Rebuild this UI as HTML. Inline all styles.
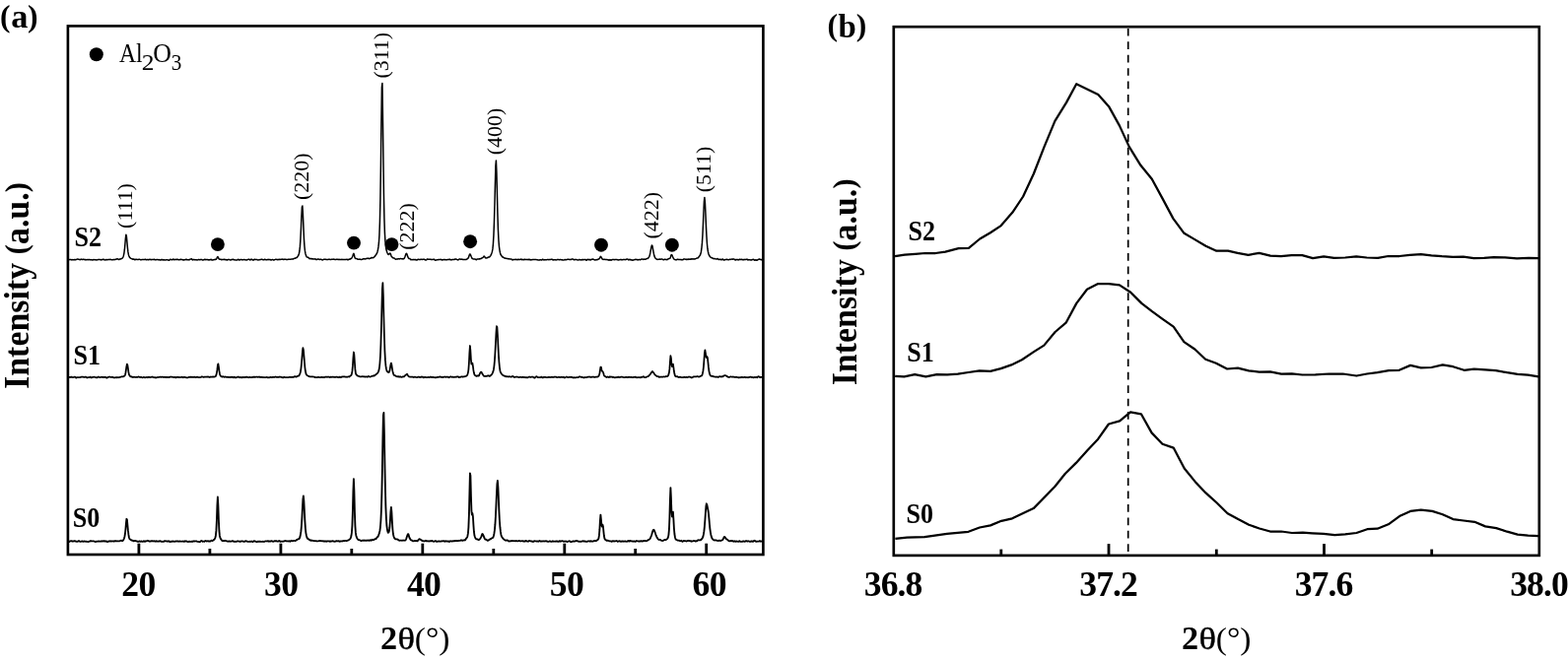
<!DOCTYPE html>
<html><head><meta charset="utf-8"><title>XRD patterns</title>
<style>html,body{margin:0;padding:0;background:#fff}svg{display:block}</style></head>
<body>
<svg width="1591" height="669" viewBox="0 0 1591 669">
<rect width="1591" height="669" fill="#fff"/>
<g font-family="'Liberation Serif', serif" fill="#000">
<polyline fill="none" stroke="#000" stroke-width="1.5" stroke-linejoin="round" points="69.4,263.7 69.9,263.7 70.4,263.6 70.9,263.4 71.4,263.4 71.9,263.5 72.4,263.7 72.9,263.9 73.4,263.7 73.9,263.6 74.4,263.8 74.9,263.8 75.4,263.6 75.9,263.5 76.4,263.7 76.9,263.7 77.4,263.4 77.9,263.3 78.4,263.1 78.9,263.1 79.4,263.2 79.9,263.3 80.4,263.4 80.9,263.6 81.4,263.7 81.9,263.4 82.4,263.1 82.9,263.3 83.4,263.6 83.9,263.5 84.4,263.3 84.9,263.3 85.4,263.4 85.9,263.5 86.4,263.7 86.9,263.6 87.4,263.7 87.9,263.8 88.4,263.6 88.9,263.6 89.4,263.7 89.9,263.6 90.4,263.4 90.9,263.7 91.4,263.8 91.9,263.6 92.4,263.7 92.9,263.7 93.4,263.8 93.9,264.1 94.4,263.9 94.9,263.5 95.4,263.6 95.9,263.8 96.4,263.8 96.9,263.8 97.4,263.8 97.9,263.9 98.4,263.9 98.9,263.7 99.4,263.6 99.9,263.6 100.4,263.5 100.9,263.4 101.4,263.4 101.9,263.6 102.4,263.9 102.9,263.8 103.4,263.4 103.9,263.4 104.4,263.5 104.9,263.3 105.4,263.3 105.9,263.7 106.4,263.9 106.9,263.9 107.4,263.6 107.9,263.5 108.4,263.7 108.9,263.8 109.4,263.6 109.9,263.5 110.4,263.6 110.9,263.6 111.4,263.4 111.9,263.3 112.4,263.4 112.9,263.6 113.4,263.8 113.9,263.8 114.4,263.7 114.9,263.6 115.4,263.6 115.9,263.7 116.4,263.6 116.9,263.5 117.4,263.3 117.9,263.2 118.4,262.9 118.9,262.8 119.4,263.0 119.9,263.1 120.4,263.4 120.9,263.5 121.4,263.1 121.9,262.8 122.4,262.9 122.9,262.8 123.4,262.4 123.9,262.2 124.4,261.9 124.9,261.0 125.4,259.4 125.9,257.1 126.4,253.2 126.9,247.7 127.4,241.8 127.9,238.2 128.4,240.0 128.9,245.6 129.4,251.3 129.9,255.7 130.4,258.5 130.9,260.0 131.4,261.1 131.9,261.7 132.4,262.0 132.9,262.4 133.4,262.6 133.9,262.8 134.4,263.0 134.9,263.2 135.4,263.1 135.9,263.1 136.4,263.5 136.9,263.7 137.4,263.5 137.9,263.3 138.4,263.3 138.9,263.4 139.4,263.5 139.9,263.5 140.4,263.4 140.9,263.3 141.4,263.2 141.9,263.4 142.4,263.7 142.9,263.8 143.4,263.7 143.9,263.6 144.4,263.4 144.9,263.4 145.4,263.5 145.9,263.5 146.4,263.5 146.9,263.4 147.4,263.2 147.9,263.5 148.4,263.8 148.9,263.6 149.4,263.4 149.9,263.7 150.4,263.8 150.9,263.5 151.4,263.4 151.9,263.3 152.4,263.3 152.9,263.6 153.4,263.7 153.9,263.6 154.4,263.6 154.9,263.6 155.4,263.6 155.9,263.5 156.4,263.3 156.9,263.4 157.4,263.8 157.9,263.7 158.4,263.7 158.9,263.6 159.4,263.5 159.9,263.6 160.4,263.7 160.9,263.7 161.4,263.6 161.9,263.8 162.4,264.0 162.9,264.0 163.4,263.8 163.9,263.5 164.4,263.4 164.9,263.8 165.4,263.9 165.9,263.8 166.4,263.8 166.9,264.0 167.4,264.0 167.9,263.9 168.4,263.8 168.9,263.8 169.4,263.7 169.9,263.8 170.4,263.9 170.9,264.1 171.4,264.3 171.9,264.0 172.4,263.4 172.9,263.3 173.4,263.6 173.9,263.6 174.4,263.7 174.9,263.7 175.4,263.2 175.9,263.1 176.4,263.5 176.9,263.7 177.4,263.6 177.9,263.6 178.4,263.4 178.9,263.3 179.4,263.4 179.9,263.3 180.4,263.3 180.9,263.6 181.4,263.8 181.9,263.7 182.4,263.5 182.9,263.4 183.4,263.3 183.9,263.4 184.4,263.6 184.9,263.6 185.4,263.7 185.9,264.0 186.4,264.0 186.9,263.7 187.4,263.7 187.9,263.7 188.4,263.5 188.9,263.3 189.4,263.5 189.9,263.8 190.4,263.7 190.9,263.7 191.4,263.7 191.9,263.9 192.4,263.6 192.9,263.2 193.4,263.1 193.9,262.9 194.4,262.8 194.9,263.4 195.4,263.9 195.9,263.7 196.4,263.4 196.9,263.5 197.4,263.8 197.9,263.8 198.4,263.7 198.9,263.7 199.4,263.8 199.9,263.9 200.4,263.9 200.9,263.7 201.4,263.5 201.9,263.6 202.4,263.7 202.9,263.7 203.4,263.5 203.9,263.5 204.4,263.5 204.9,263.6 205.4,264.0 205.9,264.1 206.4,263.8 206.9,263.8 207.4,263.6 207.9,263.2 208.4,263.5 208.9,263.7 209.4,263.6 209.9,263.4 210.4,263.5 210.9,263.7 211.4,263.9 211.9,263.8 212.4,263.8 212.9,263.9 213.4,263.6 213.9,263.3 214.4,263.4 214.9,263.9 215.4,264.0 215.9,263.9 216.4,263.8 216.9,263.7 217.4,263.6 217.9,263.4 218.4,263.3 218.9,263.4 219.4,263.2 219.9,262.4 220.4,261.3 220.9,260.6 221.4,261.3 221.9,262.5 222.4,263.1 222.9,263.2 223.4,263.2 223.9,263.2 224.4,263.5 224.9,263.7 225.4,263.6 225.9,263.5 226.4,263.6 226.9,263.5 227.4,263.3 227.9,263.4 228.4,263.5 228.9,263.7 229.4,263.6 229.9,263.8 230.4,264.0 230.9,263.7 231.4,263.5 231.9,263.6 232.4,263.6 232.9,263.5 233.4,263.9 233.9,264.1 234.4,263.8 234.9,263.5 235.4,263.5 235.9,263.5 236.4,263.3 236.9,263.5 237.4,263.7 237.9,263.7 238.4,263.9 238.9,264.1 239.4,263.9 239.9,264.0 240.4,264.1 240.9,263.8 241.4,263.4 241.9,263.3 242.4,263.7 242.9,264.1 243.4,263.9 243.9,263.5 244.4,263.4 244.9,263.5 245.4,263.7 245.9,263.7 246.4,263.7 246.9,263.7 247.4,263.6 247.9,263.6 248.4,263.7 248.9,263.7 249.4,263.9 249.9,264.1 250.4,264.0 250.9,263.6 251.4,263.4 251.9,263.4 252.4,263.2 252.9,263.3 253.4,263.8 253.9,263.9 254.4,263.5 254.9,263.3 255.4,263.3 255.9,263.5 256.4,263.9 256.9,264.2 257.4,263.8 257.9,263.4 258.4,263.3 258.9,263.5 259.4,263.5 259.9,263.4 260.4,263.4 260.9,263.5 261.4,263.9 261.9,264.1 262.4,263.9 262.9,263.7 263.4,263.7 263.9,263.6 264.4,263.5 264.9,263.4 265.4,263.2 265.9,263.3 266.4,263.6 266.9,263.7 267.4,263.8 267.9,263.7 268.4,263.3 268.9,263.3 269.4,263.6 269.9,263.7 270.4,263.7 270.9,263.8 271.4,263.6 271.9,263.3 272.4,263.4 272.9,263.7 273.4,263.6 273.9,263.4 274.4,263.7 274.9,264.0 275.4,263.9 275.9,263.6 276.4,263.4 276.9,263.6 277.4,264.0 277.9,264.0 278.4,263.8 278.9,263.6 279.4,263.4 279.9,263.2 280.4,263.4 280.9,263.6 281.4,263.5 281.9,263.7 282.4,263.6 282.9,263.3 283.4,263.3 283.9,263.4 284.4,263.4 284.9,263.3 285.4,263.3 285.9,263.3 286.4,263.2 286.9,263.1 287.4,263.4 287.9,263.5 288.4,263.3 288.9,263.2 289.4,263.2 289.9,263.3 290.4,263.4 290.9,263.5 291.4,263.5 291.9,263.4 292.4,263.3 292.9,263.2 293.4,263.2 293.9,263.3 294.4,263.3 294.9,263.3 295.4,263.1 295.9,262.9 296.4,262.9 296.9,263.1 297.4,263.0 297.9,262.7 298.4,262.4 298.9,262.3 299.4,262.3 299.9,261.9 300.4,261.6 300.9,261.7 301.4,261.4 301.9,260.6 302.4,259.8 302.9,259.0 303.4,257.5 303.9,255.0 304.4,250.4 304.9,243.1 305.4,232.8 305.9,220.4 306.4,210.3 306.9,209.0 307.4,217.5 307.9,230.1 308.4,241.5 308.9,249.5 309.4,254.4 309.9,257.4 310.4,259.1 310.9,260.3 311.4,261.1 311.9,261.1 312.4,261.2 312.9,261.5 313.4,261.9 313.9,262.5 314.4,262.7 314.9,262.4 315.4,262.4 315.9,262.8 316.4,262.9 316.9,262.6 317.4,262.8 317.9,263.1 318.4,263.1 318.9,263.1 319.4,262.9 319.9,262.8 320.4,263.1 320.9,263.6 321.4,263.6 321.9,263.3 322.4,263.0 322.9,262.9 323.4,263.1 323.9,263.4 324.4,263.4 324.9,263.3 325.4,263.2 325.9,263.3 326.4,263.6 326.9,263.9 327.4,263.9 327.9,263.6 328.4,263.3 328.9,263.3 329.4,263.3 329.9,263.3 330.4,263.3 330.9,263.4 331.4,263.5 331.9,263.6 332.4,263.5 332.9,263.4 333.4,263.3 333.9,263.2 334.4,263.3 334.9,263.4 335.4,263.5 335.9,263.4 336.4,263.3 336.9,263.3 337.4,263.2 337.9,263.2 338.4,263.2 338.9,263.1 339.4,263.4 339.9,263.6 340.4,263.5 340.9,263.4 341.4,263.3 341.9,263.3 342.4,263.3 342.9,263.4 343.4,263.4 343.9,263.3 344.4,263.5 344.9,263.5 345.4,263.5 345.9,263.5 346.4,263.4 346.9,263.3 347.4,263.4 347.9,263.6 348.4,263.6 348.9,263.5 349.4,263.4 349.9,263.4 350.4,263.6 350.9,263.6 351.4,263.4 351.9,263.2 352.4,263.5 352.9,263.8 353.4,263.7 353.9,263.3 354.4,263.1 354.9,263.2 355.4,263.0 355.9,262.6 356.4,262.5 356.9,262.0 357.4,261.0 357.9,259.7 358.4,258.1 358.9,257.3 359.4,258.8 359.9,261.0 360.4,262.3 360.9,262.6 361.4,262.6 361.9,262.6 362.4,262.8 362.9,263.2 363.4,263.3 363.9,263.3 364.4,263.3 364.9,263.1 365.4,263.2 365.9,263.4 366.4,263.4 366.9,263.4 367.4,263.3 367.9,263.1 368.4,263.0 368.9,262.7 369.4,262.7 369.9,262.9 370.4,263.0 370.9,262.8 371.4,262.5 371.9,262.5 372.4,262.5 372.9,262.3 373.4,262.1 373.9,262.4 374.4,262.7 374.9,262.5 375.4,262.2 375.9,262.2 376.4,262.0 376.9,261.5 377.4,261.5 377.9,261.7 378.4,261.7 378.9,261.6 379.4,261.2 379.9,260.6 380.4,260.1 380.9,259.6 381.4,258.7 381.9,258.0 382.4,257.2 382.9,255.9 383.4,253.8 383.9,250.9 384.4,246.7 384.9,239.1 385.4,225.4 385.9,202.3 386.4,167.5 386.9,124.5 387.4,88.5 387.9,84.6 388.4,116.3 388.9,159.1 389.4,195.8 389.9,221.3 390.4,236.4 390.9,245.0 391.4,250.2 391.9,253.3 392.4,255.1 392.9,256.5 393.4,257.5 393.9,258.2 394.4,258.4 394.9,257.9 395.4,257.2 395.9,257.1 396.4,258.1 396.9,259.6 397.4,260.6 397.9,261.0 398.4,261.5 398.9,261.8 399.4,262.1 399.9,262.1 400.4,262.3 400.9,262.8 401.4,263.2 401.9,263.2 402.4,262.9 402.9,262.9 403.4,263.1 403.9,262.8 404.4,262.6 404.9,262.8 405.4,262.9 405.9,262.6 406.4,262.4 406.9,262.6 407.4,262.8 407.9,262.8 408.4,262.8 408.9,262.9 409.4,262.8 409.9,262.5 410.4,261.9 410.9,260.8 411.4,259.3 411.9,257.8 412.4,257.3 412.9,258.0 413.4,259.4 413.9,260.9 414.4,262.0 414.9,262.5 415.4,262.5 415.9,262.6 416.4,263.2 416.9,263.7 417.4,263.7 417.9,263.4 418.4,263.6 418.9,263.8 419.4,263.5 419.9,263.4 420.4,263.6 420.9,263.7 421.4,263.6 421.9,263.6 422.4,263.9 422.9,264.0 423.4,263.8 423.9,263.5 424.4,263.2 424.9,263.4 425.4,263.6 425.9,263.6 426.4,263.6 426.9,263.3 427.4,263.2 427.9,263.4 428.4,263.4 428.9,263.3 429.4,263.3 429.9,263.2 430.4,263.2 430.9,263.6 431.4,263.8 431.9,264.0 432.4,264.0 432.9,263.6 433.4,263.1 433.9,263.1 434.4,263.2 434.9,263.3 435.4,263.3 435.9,263.2 436.4,263.3 436.9,263.3 437.4,263.5 437.9,263.5 438.4,263.5 438.9,263.5 439.4,263.4 439.9,263.2 440.4,263.2 440.9,263.6 441.4,264.1 441.9,264.3 442.4,264.1 442.9,263.8 443.4,263.7 443.9,263.8 444.4,263.7 444.9,263.5 445.4,263.5 445.9,263.5 446.4,263.5 446.9,263.4 447.4,263.3 447.9,263.6 448.4,264.0 448.9,263.8 449.4,263.6 449.9,263.7 450.4,263.7 450.9,263.4 451.4,263.5 451.9,263.8 452.4,263.7 452.9,263.8 453.4,263.8 453.9,263.6 454.4,263.5 454.9,263.6 455.4,263.6 455.9,263.3 456.4,263.2 456.9,263.5 457.4,263.7 457.9,263.9 458.4,263.7 458.9,263.5 459.4,263.5 459.9,263.5 460.4,263.5 460.9,263.5 461.4,263.2 461.9,263.0 462.4,263.1 462.9,263.2 463.4,263.3 463.9,263.6 464.4,263.8 464.9,263.9 465.4,263.5 465.9,263.1 466.4,263.1 466.9,263.1 467.4,263.2 467.9,263.4 468.4,263.2 468.9,263.1 469.4,263.4 469.9,263.5 470.4,263.5 470.9,263.5 471.4,263.5 471.9,263.5 472.4,263.6 472.9,263.5 473.4,263.3 473.9,263.0 474.4,262.6 474.9,262.2 475.4,261.5 475.9,260.1 476.4,258.5 476.9,257.9 477.4,258.6 477.9,259.8 478.4,261.0 478.9,262.1 479.4,262.6 479.9,262.8 480.4,262.9 480.9,263.1 481.4,263.1 481.9,263.1 482.4,263.2 482.9,263.6 483.4,263.7 483.9,263.2 484.4,262.9 484.9,263.0 485.4,263.1 485.9,262.9 486.4,262.8 486.9,262.9 487.4,262.7 487.9,262.5 488.4,262.4 488.9,262.0 489.4,261.7 489.9,261.5 490.4,261.0 490.9,260.3 491.4,260.1 491.9,260.8 492.4,261.6 492.9,262.0 493.4,261.9 493.9,261.8 494.4,261.8 494.9,261.5 495.4,261.0 495.9,261.0 496.4,261.0 496.9,260.7 497.4,260.1 497.9,259.3 498.4,258.4 498.9,257.0 499.4,255.4 499.9,252.9 500.4,247.7 500.9,239.2 501.4,226.4 501.9,208.8 502.4,187.5 502.9,168.6 503.4,162.9 503.9,175.0 504.4,196.0 504.9,216.5 505.4,232.5 505.9,243.2 506.4,249.8 506.9,253.6 507.4,256.4 507.9,258.2 508.4,259.1 508.9,259.7 509.4,260.4 509.9,260.9 510.4,261.0 510.9,261.3 511.4,261.8 511.9,262.0 512.4,262.0 512.9,262.2 513.4,262.3 513.9,262.4 514.4,262.4 514.9,262.4 515.4,262.7 515.9,262.9 516.4,262.7 516.9,262.9 517.4,263.0 517.9,262.9 518.4,262.9 518.9,263.0 519.4,263.5 519.9,263.9 520.4,263.8 520.9,263.5 521.4,263.4 521.9,263.4 522.4,263.5 522.9,263.5 523.4,263.3 523.9,263.4 524.4,263.6 524.9,263.7 525.4,263.5 525.9,263.3 526.4,263.5 526.9,263.6 527.4,263.6 527.9,263.5 528.4,263.2 528.9,263.1 529.4,263.5 529.9,263.7 530.4,263.6 530.9,263.6 531.4,263.7 531.9,263.5 532.4,263.3 532.9,263.5 533.4,263.6 533.9,263.5 534.4,263.6 534.9,263.4 535.4,263.4 535.9,263.7 536.4,263.5 536.9,263.3 537.4,263.5 537.9,263.8 538.4,263.9 538.9,263.6 539.4,263.7 539.9,263.7 540.4,263.6 540.9,263.6 541.4,263.6 541.9,263.4 542.4,263.4 542.9,263.6 543.4,263.6 543.9,263.4 544.4,263.6 544.9,263.8 545.4,263.8 545.9,263.9 546.4,264.0 546.9,264.1 547.4,264.0 547.9,263.8 548.4,263.7 548.9,263.8 549.4,264.1 549.9,263.9 550.4,263.3 550.9,263.3 551.4,263.7 551.9,263.9 552.4,263.8 552.9,263.7 553.4,263.8 553.9,263.8 554.4,263.8 554.9,263.6 555.4,263.4 555.9,263.4 556.4,263.6 556.9,263.7 557.4,263.6 557.9,263.5 558.4,263.5 558.9,263.4 559.4,263.2 559.9,263.2 560.4,263.5 560.9,263.8 561.4,263.9 561.9,263.8 562.4,263.8 562.9,263.7 563.4,263.7 563.9,263.9 564.4,263.9 564.9,263.7 565.4,263.5 565.9,263.6 566.4,263.6 566.9,263.6 567.4,263.7 567.9,263.7 568.4,263.6 568.9,263.6 569.4,263.7 569.9,263.7 570.4,263.8 570.9,264.0 571.4,264.1 571.9,264.1 572.4,263.9 572.9,263.6 573.4,263.6 573.9,263.7 574.4,263.7 574.9,263.6 575.4,263.4 575.9,263.3 576.4,263.2 576.9,263.2 577.4,263.4 577.9,263.5 578.4,263.4 578.9,263.6 579.4,263.5 579.9,263.2 580.4,263.1 580.9,263.1 581.4,263.1 581.9,263.4 582.4,263.8 582.9,263.7 583.4,263.5 583.9,263.5 584.4,263.6 584.9,263.6 585.4,263.7 585.9,263.9 586.4,264.1 586.9,263.9 587.4,263.6 587.9,263.5 588.4,263.7 588.9,263.7 589.4,263.8 589.9,263.9 590.4,263.8 590.9,263.4 591.4,263.5 591.9,263.8 592.4,263.6 592.9,263.4 593.4,263.4 593.9,263.4 594.4,263.8 594.9,264.3 595.4,264.0 595.9,263.5 596.4,263.3 596.9,263.6 597.4,263.7 597.9,263.5 598.4,263.5 598.9,263.8 599.4,263.9 599.9,263.5 600.4,263.2 600.9,263.2 601.4,263.1 601.9,263.2 602.4,263.5 602.9,263.6 603.4,263.8 603.9,264.1 604.4,263.9 604.9,263.6 605.4,263.7 605.9,263.8 606.4,263.4 606.9,263.2 607.4,263.0 607.9,262.8 608.4,262.4 608.9,261.2 609.4,260.4 609.9,260.8 610.4,261.7 610.9,262.6 611.4,263.1 611.9,263.4 612.4,263.4 612.9,263.2 613.4,263.3 613.9,263.4 614.4,263.6 614.9,263.6 615.4,263.4 615.9,263.5 616.4,263.7 616.9,263.7 617.4,263.7 617.9,264.2 618.4,264.1 618.9,263.6 619.4,263.8 619.9,264.2 620.4,264.1 620.9,263.7 621.4,263.6 621.9,263.5 622.4,263.5 622.9,263.6 623.4,263.7 623.9,263.6 624.4,263.4 624.9,263.4 625.4,263.4 625.9,263.4 626.4,263.6 626.9,263.9 627.4,263.9 627.9,263.8 628.4,263.8 628.9,263.7 629.4,263.6 629.9,263.6 630.4,263.7 630.9,263.6 631.4,263.8 631.9,263.7 632.4,263.4 632.9,263.4 633.4,263.5 633.9,263.5 634.4,263.6 634.9,263.7 635.4,263.4 635.9,263.0 636.4,263.1 636.9,263.2 637.4,263.5 637.9,263.9 638.4,263.7 638.9,263.3 639.4,263.5 639.9,263.9 640.4,263.9 640.9,263.7 641.4,264.1 641.9,264.3 642.4,264.1 642.9,263.8 643.4,263.7 643.9,263.7 644.4,263.4 644.9,263.3 645.4,263.4 645.9,263.4 646.4,263.5 646.9,263.8 647.4,263.9 647.9,263.6 648.4,263.4 648.9,263.5 649.4,263.7 649.9,263.7 650.4,263.4 650.9,263.1 651.4,263.0 651.9,263.1 652.4,263.4 652.9,263.3 653.4,263.1 653.9,263.1 654.4,263.3 654.9,263.2 655.4,263.0 655.9,262.7 656.4,262.4 656.9,262.4 657.4,262.4 657.9,261.7 658.4,261.1 658.9,260.3 659.4,258.6 659.9,256.2 660.4,253.5 660.9,250.7 661.4,249.0 661.9,249.5 662.4,252.1 662.9,255.1 663.4,257.7 663.9,259.8 664.4,261.2 664.9,262.0 665.4,262.4 665.9,262.8 666.4,263.2 666.9,263.4 667.4,263.4 667.9,263.2 668.4,263.2 668.9,263.2 669.4,263.1 669.9,263.2 670.4,263.2 670.9,263.1 671.4,262.9 671.9,263.0 672.4,263.4 672.9,263.7 673.4,263.7 673.9,263.5 674.4,263.3 674.9,263.3 675.4,263.4 675.9,263.4 676.4,263.6 676.9,263.7 677.4,263.3 677.9,262.9 678.4,262.7 678.9,262.5 679.4,262.4 679.9,262.2 680.4,260.9 680.9,259.2 681.4,258.5 681.9,259.1 682.4,260.3 682.9,261.4 683.4,262.3 683.9,263.0 684.4,263.4 684.9,263.6 685.4,263.8 685.9,263.8 686.4,263.8 686.9,263.5 687.4,263.2 687.9,263.3 688.4,263.4 688.9,263.5 689.4,263.5 689.9,263.4 690.4,263.4 690.9,263.7 691.4,263.7 691.9,263.6 692.4,263.7 692.9,263.8 693.4,263.3 693.9,262.9 694.4,263.0 694.9,263.1 695.4,263.2 695.9,263.4 696.4,263.6 696.9,263.2 697.4,263.2 697.9,263.5 698.4,263.3 698.9,263.0 699.4,263.2 699.9,263.2 700.4,263.1 700.9,263.2 701.4,263.0 701.9,262.8 702.4,263.0 702.9,263.1 703.4,262.9 703.9,262.8 704.4,263.0 704.9,263.1 705.4,262.8 705.9,262.6 706.4,262.4 706.9,262.1 707.4,262.1 707.9,262.0 708.4,261.7 708.9,261.1 709.4,260.3 709.9,259.7 710.4,259.0 710.9,257.8 711.4,255.7 711.9,252.2 712.4,246.9 712.9,239.0 713.4,228.2 713.9,215.7 714.4,204.7 714.9,200.4 715.4,205.3 715.9,216.2 716.4,228.4 716.9,239.0 717.4,247.0 717.9,252.2 718.4,255.4 718.9,257.5 719.4,258.9 719.9,259.8 720.4,260.4 720.9,261.0 721.4,261.5 721.9,261.5 722.4,261.7 722.9,262.0 723.4,262.3 723.9,262.6 724.4,262.7 724.9,262.6 725.4,262.6 725.9,262.8 726.4,262.9 726.9,263.0 727.4,262.9 727.9,262.5 728.4,262.7 728.9,263.3 729.4,263.5 729.9,263.5 730.4,263.2 730.9,263.2 731.4,263.6 731.9,263.8 732.4,263.5 732.9,263.2 733.4,263.1 733.9,263.7 734.4,264.1 734.9,264.0 735.4,263.8 735.9,263.6 736.4,263.5 736.9,263.5 737.4,263.3 737.9,263.4 738.4,263.6 738.9,263.7 739.4,263.7 739.9,263.6 740.4,263.3 740.9,263.2 741.4,263.4 741.9,263.3 742.4,263.1 742.9,263.1 743.4,263.2 743.9,263.0 744.4,263.0 744.9,263.1 745.4,263.5 745.9,263.9 746.4,263.9 746.9,263.4 747.4,263.4 747.9,263.7 748.4,263.6 748.9,263.7 749.4,263.9 749.9,263.6 750.4,263.2 750.9,263.3 751.4,263.6 751.9,263.6 752.4,263.3 752.9,263.3 753.4,263.7 753.9,263.7 754.4,263.6 754.9,263.7 755.4,263.6 755.9,263.3 756.4,263.4 756.9,263.6 757.4,263.4 757.9,263.1 758.4,263.4 758.9,263.9 759.4,263.8 759.9,263.6 760.4,263.8 760.9,263.8 761.4,263.8 761.9,264.1 762.4,264.0 762.9,263.7 763.4,263.5 763.9,263.6 764.4,263.3 764.9,263.4 765.4,264.0 765.9,264.2 766.4,264.0 766.9,263.8 767.4,264.0 767.9,264.3 768.4,264.1 768.9,263.7 769.4,263.4 769.9,263.3 770.4,263.0 770.9,263.1 771.4,263.4 771.9,263.5 772.4,263.5 772.9,263.8 773.4,264.2 773.9,264.1"/>
<polyline fill="none" stroke="#000" stroke-width="1.75" stroke-linejoin="round" points="69.4,383.1 69.9,383.1 70.4,382.9 70.9,382.9 71.4,383.0 71.9,382.8 72.4,382.7 72.9,382.7 73.4,383.0 73.9,383.2 74.4,383.0 74.9,382.9 75.4,382.7 75.9,382.6 76.4,382.8 76.9,383.4 77.4,383.6 77.9,383.2 78.4,383.0 78.9,383.0 79.4,383.1 79.9,383.1 80.4,383.2 80.9,383.1 81.4,383.1 81.9,382.9 82.4,382.7 82.9,382.6 83.4,382.6 83.9,382.7 84.4,382.7 84.9,382.8 85.4,383.0 85.9,382.9 86.4,382.7 86.9,382.6 87.4,382.8 87.9,383.2 88.4,383.5 88.9,383.3 89.4,383.1 89.9,383.1 90.4,383.0 90.9,383.1 91.4,382.7 91.9,382.6 92.4,383.4 92.9,383.5 93.4,383.0 93.9,382.9 94.4,383.0 94.9,382.8 95.4,382.6 95.9,382.8 96.4,383.0 96.9,383.2 97.4,383.2 97.9,383.3 98.4,383.4 98.9,383.1 99.4,382.8 99.9,382.5 100.4,382.7 100.9,383.0 101.4,383.0 101.9,383.0 102.4,382.9 102.9,382.7 103.4,382.8 103.9,382.8 104.4,382.9 104.9,383.1 105.4,383.1 105.9,382.8 106.4,382.8 106.9,382.9 107.4,383.1 107.9,383.4 108.4,383.7 108.9,383.4 109.4,383.0 109.9,382.8 110.4,382.7 110.9,382.6 111.4,382.6 111.9,382.7 112.4,382.9 112.9,383.0 113.4,382.9 113.9,382.7 114.4,382.8 114.9,383.2 115.4,383.4 115.9,383.4 116.4,383.4 116.9,383.3 117.4,383.1 117.9,383.3 118.4,383.4 118.9,383.0 119.4,383.1 119.9,383.3 120.4,383.2 120.9,383.1 121.4,383.1 121.9,382.8 122.4,382.7 122.9,382.5 123.4,382.4 123.9,382.4 124.4,382.4 124.9,382.4 125.4,382.1 125.9,381.8 126.4,381.7 126.9,380.8 127.4,378.7 127.9,375.5 128.4,371.9 128.9,369.6 129.4,370.6 129.9,373.9 130.4,377.7 130.9,380.2 131.4,381.0 131.9,381.8 132.4,382.2 132.9,382.4 133.4,382.6 133.9,382.4 134.4,382.7 134.9,383.0 135.4,382.8 135.9,382.7 136.4,382.7 136.9,382.9 137.4,383.0 137.9,382.9 138.4,382.8 138.9,382.8 139.4,382.9 139.9,382.7 140.4,382.4 140.9,382.5 141.4,382.7 141.9,382.9 142.4,383.1 142.9,382.8 143.4,382.8 143.9,383.1 144.4,383.3 144.9,383.3 145.4,383.1 145.9,382.8 146.4,383.0 146.9,383.3 147.4,383.3 147.9,383.1 148.4,383.0 148.9,382.9 149.4,383.0 149.9,383.3 150.4,383.0 150.9,382.7 151.4,382.8 151.9,383.1 152.4,383.2 152.9,382.9 153.4,382.8 153.9,382.7 154.4,382.5 154.9,382.6 155.4,383.0 155.9,383.0 156.4,383.1 156.9,383.3 157.4,383.2 157.9,383.3 158.4,383.5 158.9,383.3 159.4,383.0 159.9,383.1 160.4,383.0 160.9,382.9 161.4,382.9 161.9,382.8 162.4,382.6 162.9,382.7 163.4,382.9 163.9,382.7 164.4,382.6 164.9,382.7 165.4,382.9 165.9,382.9 166.4,382.8 166.9,382.9 167.4,382.8 167.9,382.9 168.4,383.2 168.9,382.9 169.4,382.9 169.9,383.1 170.4,383.0 170.9,382.9 171.4,383.1 171.9,383.0 172.4,382.6 172.9,382.5 173.4,382.6 173.9,382.6 174.4,382.6 174.9,382.8 175.4,382.9 175.9,382.8 176.4,383.0 176.9,383.0 177.4,382.9 177.9,383.1 178.4,383.4 178.9,383.1 179.4,382.9 179.9,382.8 180.4,382.8 180.9,383.0 181.4,383.1 181.9,382.9 182.4,383.0 182.9,383.1 183.4,383.0 183.9,382.9 184.4,382.7 184.9,382.7 185.4,383.0 185.9,383.3 186.4,383.1 186.9,382.8 187.4,382.8 187.9,383.0 188.4,383.1 188.9,383.3 189.4,383.4 189.9,383.4 190.4,383.3 190.9,383.2 191.4,383.0 191.9,382.7 192.4,382.8 192.9,382.9 193.4,382.7 193.9,382.6 194.4,382.9 194.9,382.9 195.4,382.8 195.9,382.9 196.4,382.9 196.9,382.9 197.4,382.7 197.9,382.7 198.4,383.0 198.9,383.0 199.4,382.9 199.9,382.7 200.4,382.7 200.9,383.0 201.4,383.1 201.9,383.0 202.4,383.2 202.9,383.2 203.4,383.0 203.9,382.9 204.4,382.6 204.9,382.3 205.4,382.5 205.9,382.7 206.4,382.8 206.9,382.8 207.4,382.7 207.9,382.6 208.4,382.7 208.9,382.6 209.4,382.6 209.9,382.7 210.4,382.5 210.9,382.4 211.4,382.6 211.9,382.8 212.4,383.0 212.9,382.9 213.4,382.6 213.9,382.5 214.4,382.6 214.9,382.6 215.4,382.5 215.9,382.7 216.4,382.6 216.9,382.4 217.4,382.5 217.9,382.5 218.4,382.3 218.9,381.8 219.4,380.7 219.9,378.8 220.4,375.2 220.9,370.9 221.4,369.4 221.9,372.4 222.4,376.4 222.9,379.2 223.4,380.9 223.9,381.7 224.4,382.0 224.9,382.4 225.4,382.6 225.9,382.4 226.4,382.2 226.9,382.5 227.4,382.8 227.9,382.7 228.4,382.5 228.9,382.4 229.4,382.7 229.9,382.9 230.4,382.8 230.9,382.7 231.4,382.8 231.9,383.0 232.4,383.0 232.9,382.8 233.4,382.9 233.9,383.2 234.4,382.9 234.9,382.7 235.4,382.7 235.9,382.8 236.4,383.2 236.9,383.3 237.4,382.8 237.9,382.7 238.4,383.1 238.9,383.4 239.4,383.3 239.9,383.2 240.4,382.9 240.9,382.7 241.4,382.5 241.9,382.6 242.4,382.9 242.9,383.1 243.4,383.3 243.9,383.1 244.4,382.9 244.9,383.2 245.4,383.4 245.9,383.1 246.4,382.8 246.9,383.1 247.4,383.2 247.9,382.9 248.4,382.9 248.9,383.1 249.4,383.0 249.9,382.7 250.4,382.7 250.9,382.8 251.4,383.0 251.9,383.1 252.4,383.3 252.9,383.1 253.4,382.8 253.9,383.0 254.4,383.2 254.9,383.2 255.4,383.2 255.9,382.9 256.4,382.8 256.9,383.0 257.4,382.6 257.9,382.5 258.4,382.9 258.9,382.9 259.4,382.7 259.9,382.5 260.4,382.5 260.9,382.6 261.4,382.8 261.9,382.8 262.4,382.6 262.9,382.8 263.4,382.7 263.9,382.7 264.4,383.0 264.9,382.9 265.4,382.8 265.9,383.1 266.4,383.0 266.9,382.9 267.4,383.2 267.9,383.2 268.4,383.1 268.9,383.0 269.4,383.0 269.9,383.0 270.4,382.9 270.9,383.0 271.4,383.3 271.9,383.2 272.4,383.2 272.9,383.4 273.4,383.2 273.9,382.9 274.4,382.9 274.9,382.9 275.4,383.2 275.9,383.2 276.4,382.9 276.9,382.8 277.4,382.9 277.9,382.9 278.4,382.8 278.9,382.8 279.4,382.5 279.9,382.6 280.4,382.8 280.9,382.9 281.4,382.8 281.9,382.8 282.4,382.9 282.9,382.9 283.4,382.6 283.9,382.5 284.4,382.6 284.9,382.8 285.4,382.8 285.9,382.9 286.4,383.2 286.9,383.3 287.4,383.3 287.9,382.9 288.4,382.7 288.9,383.0 289.4,383.1 289.9,383.1 290.4,383.1 290.9,383.2 291.4,383.2 291.9,383.1 292.4,383.0 292.9,383.0 293.4,382.9 293.9,382.9 294.4,382.9 294.9,382.9 295.4,383.0 295.9,382.9 296.4,382.9 296.9,382.7 297.4,382.8 297.9,382.9 298.4,382.5 298.9,382.1 299.4,382.1 299.9,382.4 300.4,382.7 300.9,382.5 301.4,382.1 301.9,381.8 302.4,381.7 302.9,381.7 303.4,381.3 303.9,380.4 304.4,379.4 304.9,377.5 305.4,374.3 305.9,369.7 306.4,363.4 306.9,356.7 307.4,353.1 307.9,355.1 308.4,360.8 308.9,367.4 309.4,373.0 309.9,376.8 310.4,379.1 310.9,380.3 311.4,380.9 311.9,381.3 312.4,381.6 312.9,381.7 313.4,381.9 313.9,382.2 314.4,382.4 314.9,382.4 315.4,382.3 315.9,382.4 316.4,382.5 316.9,382.4 317.4,382.4 317.9,382.5 318.4,382.5 318.9,382.5 319.4,382.8 319.9,383.2 320.4,383.2 320.9,383.0 321.4,383.0 321.9,383.2 322.4,383.1 322.9,382.8 323.4,382.9 323.9,383.0 324.4,383.1 324.9,383.2 325.4,383.2 325.9,382.9 326.4,382.8 326.9,382.9 327.4,383.1 327.9,383.0 328.4,382.9 328.9,383.2 329.4,383.1 329.9,382.7 330.4,382.6 330.9,382.6 331.4,382.7 331.9,382.8 332.4,382.7 332.9,382.7 333.4,382.7 333.9,382.7 334.4,383.0 334.9,383.0 335.4,382.6 335.9,382.6 336.4,382.8 336.9,382.8 337.4,382.7 337.9,382.6 338.4,382.7 338.9,382.9 339.4,382.9 339.9,382.9 340.4,382.9 340.9,382.7 341.4,382.6 341.9,382.8 342.4,382.9 342.9,382.9 343.4,383.1 343.9,383.1 344.4,382.7 344.9,382.7 345.4,383.2 345.9,383.2 346.4,382.7 346.9,382.4 347.4,382.5 347.9,382.4 348.4,382.4 348.9,382.5 349.4,382.3 349.9,382.4 350.4,382.7 350.9,382.6 351.4,382.6 351.9,382.8 352.4,382.7 352.9,382.5 353.4,382.3 353.9,382.3 354.4,382.5 354.9,382.1 355.4,381.5 355.9,381.3 356.4,380.8 356.9,379.6 357.4,376.9 357.9,371.4 358.4,363.4 358.9,357.5 359.4,360.2 359.9,368.1 360.4,374.9 360.9,378.9 361.4,380.2 361.9,380.6 362.4,381.2 362.9,381.6 363.4,381.7 363.9,381.8 364.4,382.1 364.9,382.3 365.4,382.3 365.9,382.3 366.4,382.4 366.9,382.4 367.4,382.2 367.9,382.1 368.4,382.3 368.9,382.4 369.4,382.2 369.9,382.4 370.4,382.6 370.9,382.5 371.4,382.3 371.9,382.4 372.4,382.7 372.9,382.7 373.4,382.3 373.9,381.9 374.4,382.0 374.9,382.5 375.4,382.6 375.9,382.5 376.4,382.3 376.9,382.0 377.4,381.8 377.9,381.8 378.4,381.6 378.9,381.4 379.4,381.6 379.9,381.5 380.4,380.8 380.9,380.5 381.4,380.4 381.9,379.8 382.4,379.2 382.9,379.0 383.4,378.4 383.9,377.4 384.4,376.1 384.9,373.5 385.4,369.0 385.9,361.9 386.4,350.1 386.9,333.1 387.4,312.1 387.9,292.8 388.4,287.2 388.9,300.0 389.4,321.2 389.9,340.9 390.4,355.7 390.9,365.4 391.4,371.2 391.9,374.4 392.4,376.3 392.9,377.1 393.4,377.6 393.9,377.9 394.4,378.1 394.9,377.8 395.4,376.3 395.9,373.4 396.4,370.2 396.9,368.6 397.4,370.3 397.9,373.8 398.4,376.9 398.9,378.9 399.4,380.2 399.9,380.9 400.4,381.1 400.9,381.2 401.4,381.6 401.9,382.0 402.4,382.1 402.9,382.3 403.4,382.4 403.9,382.1 404.4,382.1 404.9,382.6 405.4,382.7 405.9,382.3 406.4,382.4 406.9,382.6 407.4,382.8 407.9,382.8 408.4,382.6 408.9,382.3 409.4,382.4 409.9,382.5 410.4,381.9 410.9,381.2 411.4,380.9 411.9,380.6 412.4,380.2 412.9,379.8 413.4,380.1 413.9,381.1 414.4,381.9 414.9,382.2 415.4,382.5 415.9,382.6 416.4,382.6 416.9,382.6 417.4,382.6 417.9,382.6 418.4,382.7 418.9,382.7 419.4,382.9 419.9,383.1 420.4,382.8 420.9,382.6 421.4,382.7 421.9,382.9 422.4,383.0 422.9,383.0 423.4,383.0 423.9,382.8 424.4,382.7 424.9,382.6 425.4,382.9 425.9,382.9 426.4,382.9 426.9,383.1 427.4,382.8 427.9,382.4 428.4,382.5 428.9,382.7 429.4,383.2 429.9,383.4 430.4,383.0 430.9,382.8 431.4,382.9 431.9,383.0 432.4,383.2 432.9,383.1 433.4,383.0 433.9,383.0 434.4,382.9 434.9,383.0 435.4,383.2 435.9,383.1 436.4,382.7 436.9,382.6 437.4,382.7 437.9,383.0 438.4,383.0 438.9,382.8 439.4,382.9 439.9,383.1 440.4,383.1 440.9,383.2 441.4,383.3 441.9,383.2 442.4,383.2 442.9,383.3 443.4,383.1 443.9,382.8 444.4,382.9 444.9,382.9 445.4,382.7 445.9,382.5 446.4,382.4 446.9,382.6 447.4,382.8 447.9,382.8 448.4,382.8 448.9,383.1 449.4,383.1 449.9,382.8 450.4,382.7 450.9,382.6 451.4,382.5 451.9,382.7 452.4,382.8 452.9,382.7 453.4,382.6 453.9,382.6 454.4,382.7 454.9,383.0 455.4,383.3 455.9,383.1 456.4,382.7 456.9,382.4 457.4,382.3 457.9,382.5 458.4,382.8 458.9,382.8 459.4,382.7 459.9,382.7 460.4,382.9 460.9,383.0 461.4,382.8 461.9,382.6 462.4,382.7 462.9,382.8 463.4,382.6 463.9,382.3 464.4,382.3 464.9,382.4 465.4,382.9 465.9,383.2 466.4,382.9 466.9,382.8 467.4,382.7 467.9,382.4 468.4,382.4 468.9,382.4 469.4,382.6 469.9,382.6 470.4,382.3 470.9,382.3 471.4,382.3 471.9,382.0 472.4,382.0 472.9,381.9 473.4,381.5 473.9,381.1 474.4,380.1 474.9,378.3 475.4,375.1 475.9,368.2 476.4,357.7 476.9,351.0 477.4,356.2 477.9,365.1 478.4,369.6 478.9,369.4 479.4,368.7 479.9,371.8 480.4,375.9 480.9,378.6 481.4,380.3 481.9,381.0 482.4,381.2 482.9,381.6 483.4,381.9 483.9,381.6 484.4,381.4 484.9,381.5 485.4,381.7 485.9,381.5 486.4,380.5 486.9,379.2 487.4,378.3 487.9,377.7 488.4,377.6 488.9,378.5 489.4,379.6 489.9,380.3 490.4,381.0 490.9,381.7 491.4,381.9 491.9,381.9 492.4,382.0 492.9,381.9 493.4,381.8 493.9,381.8 494.4,381.7 494.9,381.4 495.4,381.2 495.9,381.4 496.4,381.9 496.9,381.9 497.4,381.6 497.9,381.1 498.4,380.6 498.9,380.1 499.4,379.5 499.9,378.4 500.4,377.1 500.9,375.2 501.4,371.6 501.9,366.1 502.4,358.4 502.9,348.6 503.4,338.2 503.9,331.1 504.4,331.9 504.9,340.0 505.4,350.5 505.9,360.1 506.4,367.5 506.9,372.8 507.4,376.2 507.9,377.9 508.4,378.7 508.9,379.5 509.4,380.2 509.9,380.7 510.4,380.9 510.9,381.2 511.4,381.6 511.9,381.7 512.4,381.7 512.9,382.2 513.4,382.3 513.9,382.2 514.4,382.2 514.9,382.3 515.4,382.5 515.9,382.4 516.4,382.2 516.9,382.3 517.4,382.3 517.9,382.5 518.4,382.6 518.9,382.6 519.4,382.2 519.9,381.9 520.4,382.1 520.9,382.3 521.4,382.7 521.9,383.0 522.4,382.9 522.9,382.7 523.4,382.7 523.9,382.7 524.4,382.6 524.9,382.5 525.4,382.7 525.9,382.9 526.4,383.0 526.9,383.0 527.4,382.9 527.9,382.8 528.4,382.9 528.9,383.0 529.4,383.1 529.9,382.9 530.4,382.7 530.9,382.8 531.4,383.1 531.9,383.0 532.4,382.9 532.9,383.2 533.4,383.3 533.9,383.1 534.4,383.1 534.9,383.4 535.4,383.3 535.9,383.0 536.4,382.8 536.9,382.5 537.4,382.5 537.9,382.9 538.4,383.0 538.9,382.8 539.4,382.5 539.9,382.5 540.4,382.6 540.9,382.7 541.4,383.1 541.9,383.5 542.4,383.7 542.9,383.3 543.4,382.8 543.9,382.4 544.4,382.1 544.9,382.5 545.4,382.9 545.9,383.2 546.4,383.2 546.9,383.1 547.4,383.1 547.9,383.2 548.4,383.2 548.9,382.8 549.4,382.6 549.9,382.8 550.4,383.3 550.9,383.4 551.4,383.1 551.9,382.8 552.4,382.8 552.9,382.9 553.4,382.9 553.9,383.0 554.4,383.0 554.9,383.0 555.4,383.1 555.9,383.1 556.4,382.9 556.9,382.9 557.4,382.9 557.9,383.0 558.4,383.0 558.9,382.9 559.4,382.8 559.9,382.7 560.4,382.9 560.9,382.9 561.4,383.0 561.9,382.9 562.4,382.6 562.9,382.6 563.4,382.7 563.9,382.6 564.4,382.7 564.9,383.0 565.4,383.0 565.9,383.0 566.4,382.9 566.9,382.9 567.4,382.8 567.9,382.9 568.4,383.1 568.9,383.0 569.4,382.8 569.9,382.7 570.4,382.9 570.9,383.0 571.4,382.9 571.9,382.8 572.4,383.2 572.9,383.5 573.4,383.2 573.9,383.0 574.4,382.8 574.9,382.5 575.4,382.7 575.9,383.0 576.4,383.1 576.9,383.0 577.4,382.8 577.9,382.9 578.4,382.9 578.9,382.9 579.4,382.8 579.9,382.7 580.4,382.9 580.9,383.3 581.4,383.5 581.9,383.3 582.4,383.2 582.9,383.3 583.4,383.4 583.9,383.5 584.4,383.3 584.9,383.1 585.4,383.0 585.9,383.0 586.4,383.1 586.9,383.0 587.4,382.6 587.9,382.4 588.4,382.4 588.9,382.5 589.4,382.8 589.9,382.8 590.4,382.7 590.9,383.0 591.4,383.2 591.9,383.2 592.4,383.5 592.9,383.4 593.4,383.0 593.9,383.1 594.4,383.2 594.9,383.2 595.4,383.1 595.9,382.8 596.4,382.7 596.9,382.6 597.4,382.7 597.9,382.7 598.4,382.5 598.9,382.6 599.4,382.9 599.9,383.0 600.4,382.8 600.9,382.5 601.4,382.5 601.9,382.7 602.4,382.7 602.9,382.8 603.4,382.9 603.9,382.8 604.4,382.7 604.9,382.7 605.4,382.7 605.9,382.6 606.4,382.6 606.9,382.3 607.4,381.8 607.9,380.9 608.4,379.0 608.9,375.9 609.4,372.6 609.9,372.6 610.4,375.2 610.9,376.8 611.4,377.1 611.9,377.7 612.4,379.3 612.9,381.1 613.4,381.9 613.9,382.0 614.4,382.2 614.9,382.6 615.4,383.0 615.9,382.8 616.4,382.5 616.9,382.7 617.4,383.0 617.9,383.1 618.4,382.6 618.9,382.3 619.4,382.6 619.9,382.8 620.4,382.6 620.9,382.5 621.4,382.9 621.9,383.1 622.4,382.8 622.9,382.9 623.4,383.2 623.9,383.4 624.4,383.2 624.9,383.0 625.4,383.2 625.9,383.1 626.4,382.9 626.9,383.0 627.4,382.7 627.9,382.7 628.4,383.1 628.9,383.0 629.4,382.8 629.9,382.8 630.4,382.5 630.9,382.5 631.4,382.7 631.9,382.8 632.4,383.0 632.9,383.1 633.4,383.0 633.9,383.0 634.4,383.0 634.9,382.8 635.4,382.8 635.9,382.9 636.4,383.1 636.9,383.1 637.4,382.9 637.9,382.7 638.4,382.7 638.9,382.9 639.4,383.0 639.9,382.9 640.4,382.8 640.9,383.1 641.4,383.1 641.9,383.0 642.4,383.1 642.9,382.9 643.4,382.8 643.9,382.8 644.4,382.7 644.9,382.7 645.4,383.0 645.9,383.3 646.4,383.3 646.9,383.1 647.4,383.2 647.9,383.1 648.4,383.0 648.9,383.1 649.4,383.2 649.9,383.4 650.4,383.0 650.9,382.7 651.4,382.9 651.9,382.8 652.4,382.4 652.9,382.2 653.4,382.7 653.9,383.0 654.4,383.0 654.9,383.0 655.4,383.0 655.9,382.7 656.4,382.5 656.9,382.2 657.4,382.0 657.9,382.0 658.4,381.5 658.9,380.8 659.4,380.4 659.9,379.7 660.4,378.9 660.9,378.3 661.4,377.5 661.9,377.0 662.4,377.4 662.9,378.1 663.4,378.6 663.9,379.4 664.4,380.4 664.9,380.8 665.4,381.1 665.9,381.5 666.4,382.0 666.9,382.2 667.4,382.1 667.9,382.2 668.4,382.6 668.9,382.9 669.4,382.7 669.9,382.5 670.4,382.6 670.9,382.7 671.4,382.7 671.9,382.5 672.4,382.5 672.9,382.5 673.4,382.4 673.9,382.5 674.4,382.5 674.9,382.4 675.4,382.3 675.9,382.0 676.4,382.1 676.9,382.1 677.4,381.9 677.9,381.4 678.4,380.2 678.9,378.3 679.4,374.4 679.9,367.5 680.4,361.1 680.9,363.4 681.4,369.5 681.9,372.2 682.4,370.7 682.9,369.6 683.4,372.9 683.9,377.0 684.4,379.6 684.9,381.2 685.4,382.0 685.9,382.3 686.4,382.3 686.9,382.1 687.4,382.2 687.9,382.8 688.4,383.0 688.9,382.9 689.4,382.8 689.9,382.7 690.4,382.7 690.9,383.0 691.4,383.1 691.9,383.0 692.4,383.0 692.9,383.1 693.4,383.1 693.9,382.9 694.4,382.7 694.9,383.0 695.4,383.2 695.9,382.9 696.4,382.8 696.9,383.1 697.4,383.2 697.9,382.9 698.4,382.6 698.9,382.6 699.4,382.5 699.9,382.6 700.4,382.8 700.9,382.9 701.4,383.2 701.9,383.5 702.4,383.3 702.9,382.9 703.4,382.6 703.9,382.4 704.4,382.4 704.9,382.4 705.4,382.3 705.9,382.4 706.4,382.4 706.9,382.2 707.4,382.0 707.9,382.1 708.4,382.4 708.9,382.5 709.4,382.5 709.9,382.4 710.4,382.0 710.9,381.7 711.4,381.5 711.9,381.5 712.4,380.8 712.9,379.2 713.4,376.7 713.9,372.5 714.4,365.7 714.9,358.4 715.4,355.3 715.9,358.3 716.4,362.2 716.9,363.1 717.4,362.0 717.9,363.1 718.4,367.6 718.9,372.7 719.4,376.6 719.9,379.1 720.4,380.5 720.9,381.3 721.4,381.7 721.9,381.8 722.4,381.8 722.9,381.8 723.4,381.9 723.9,382.3 724.4,382.4 724.9,382.4 725.4,382.5 725.9,382.5 726.4,382.6 726.9,382.8 727.4,382.6 727.9,382.5 728.4,382.9 728.9,382.9 729.4,382.6 729.9,382.3 730.4,382.1 730.9,382.3 731.4,382.6 731.9,382.5 732.4,382.2 732.9,382.3 733.4,382.3 733.9,381.8 734.4,381.4 734.9,381.3 735.4,381.2 735.9,381.2 736.4,381.3 736.9,381.5 737.4,381.8 737.9,382.2 738.4,382.6 738.9,382.8 739.4,382.9 739.9,382.9 740.4,382.8 740.9,382.5 741.4,382.3 741.9,382.5 742.4,382.6 742.9,382.6 743.4,382.7 743.9,382.5 744.4,382.6 744.9,382.8 745.4,382.9 745.9,382.9 746.4,382.9 746.9,382.8 747.4,382.7 747.9,383.0 748.4,383.2 748.9,383.1 749.4,383.2 749.9,383.5 750.4,383.3 750.9,383.1 751.4,383.3 751.9,383.1 752.4,382.9 752.9,382.9 753.4,383.1 753.9,383.0 754.4,383.1 754.9,383.1 755.4,382.8 755.9,382.8 756.4,383.1 756.9,383.3 757.4,383.1 757.9,383.0 758.4,383.1 758.9,383.3 759.4,383.2 759.9,382.9 760.4,382.9 760.9,382.8 761.4,382.6 761.9,382.8 762.4,383.1 762.9,382.9 763.4,382.9 763.9,383.2 764.4,383.3 764.9,383.2 765.4,382.9 765.9,383.0 766.4,383.1 766.9,382.9 767.4,382.8 767.9,383.2 768.4,383.3 768.9,382.7 769.4,382.2 769.9,382.3 770.4,382.6 770.9,382.9 771.4,383.1 771.9,382.9 772.4,382.8 772.9,382.8 773.4,382.8 773.9,382.9"/>
<polyline fill="none" stroke="#000" stroke-width="1.85" stroke-linejoin="round" points="69.4,549.7 69.9,550.1 70.4,549.9 70.9,549.4 71.4,549.3 71.9,549.2 72.4,549.2 72.9,549.2 73.4,549.5 73.9,549.6 74.4,549.5 74.9,549.3 75.4,549.1 75.9,549.2 76.4,549.4 76.9,549.6 77.4,549.7 77.9,549.7 78.4,549.8 78.9,549.7 79.4,549.4 79.9,549.1 80.4,549.2 80.9,549.7 81.4,549.9 81.9,549.8 82.4,549.7 82.9,549.5 83.4,549.4 83.9,549.5 84.4,549.7 84.9,549.7 85.4,549.5 85.9,549.5 86.4,549.7 86.9,549.6 87.4,549.6 87.9,549.9 88.4,549.8 88.9,549.8 89.4,550.0 89.9,549.9 90.4,549.7 90.9,549.6 91.4,549.4 91.9,549.1 92.4,549.2 92.9,549.4 93.4,549.4 93.9,549.4 94.4,549.4 94.9,549.3 95.4,549.5 95.9,549.7 96.4,549.9 96.9,550.0 97.4,549.9 97.9,549.7 98.4,549.6 98.9,549.7 99.4,549.6 99.9,549.5 100.4,549.5 100.9,549.6 101.4,549.6 101.9,549.6 102.4,549.4 102.9,549.4 103.4,549.5 103.9,549.2 104.4,549.4 104.9,549.5 105.4,549.1 105.9,549.2 106.4,549.5 106.9,549.5 107.4,549.6 107.9,549.4 108.4,549.7 108.9,550.1 109.4,549.8 109.9,549.6 110.4,549.5 110.9,549.5 111.4,549.5 111.9,549.3 112.4,549.4 112.9,549.6 113.4,549.3 113.9,549.3 114.4,549.3 114.9,549.3 115.4,549.6 115.9,549.5 116.4,549.2 116.9,549.2 117.4,549.2 117.9,549.2 118.4,549.3 118.9,549.3 119.4,549.4 119.9,549.3 120.4,549.4 120.9,549.4 121.4,549.3 121.9,549.0 122.4,548.8 122.9,548.7 123.4,548.9 123.9,549.1 124.4,549.0 124.9,548.6 125.4,547.7 125.9,546.6 126.4,544.9 126.9,542.0 127.4,537.6 127.9,531.7 128.4,526.8 128.9,527.5 129.4,532.8 129.9,538.4 130.4,542.7 130.9,545.5 131.4,546.9 131.9,547.5 132.4,547.8 132.9,548.1 133.4,548.5 133.9,548.6 134.4,548.6 134.9,548.9 135.4,549.2 135.9,549.2 136.4,549.1 136.9,548.9 137.4,549.0 137.9,549.1 138.4,549.3 138.9,549.5 139.4,549.6 139.9,549.9 140.4,549.8 140.9,549.6 141.4,549.5 141.9,549.5 142.4,549.7 142.9,549.7 143.4,549.4 143.9,549.6 144.4,549.8 144.9,549.8 145.4,549.6 145.9,549.2 146.4,549.3 146.9,549.8 147.4,549.6 147.9,549.3 148.4,549.4 148.9,549.3 149.4,548.9 149.9,548.8 150.4,549.0 150.9,549.4 151.4,549.5 151.9,549.5 152.4,549.6 152.9,549.5 153.4,549.2 153.9,549.2 154.4,549.2 154.9,549.2 155.4,549.3 155.9,549.5 156.4,549.4 156.9,549.2 157.4,549.5 157.9,549.8 158.4,549.4 158.9,549.2 159.4,549.5 159.9,549.7 160.4,549.6 160.9,549.5 161.4,549.6 161.9,549.4 162.4,549.2 162.9,549.3 163.4,549.6 163.9,549.8 164.4,549.8 164.9,549.7 165.4,549.8 165.9,549.8 166.4,549.6 166.9,549.2 167.4,549.2 167.9,549.4 168.4,549.3 168.9,549.4 169.4,549.5 169.9,549.4 170.4,549.6 170.9,549.5 171.4,549.3 171.9,549.7 172.4,550.1 172.9,549.8 173.4,549.6 173.9,549.9 174.4,549.9 174.9,549.5 175.4,549.5 175.9,549.6 176.4,549.7 176.9,549.7 177.4,549.7 177.9,549.6 178.4,549.5 178.9,549.4 179.4,549.4 179.9,549.5 180.4,549.4 180.9,549.5 181.4,549.7 181.9,549.6 182.4,549.4 182.9,549.6 183.4,549.6 183.9,549.6 184.4,549.6 184.9,549.6 185.4,549.6 185.9,549.5 186.4,549.7 186.9,549.7 187.4,549.3 187.9,549.4 188.4,549.5 188.9,549.3 189.4,549.4 189.9,549.8 190.4,549.9 190.9,550.0 191.4,549.9 191.9,549.7 192.4,549.7 192.9,549.8 193.4,549.9 193.9,549.8 194.4,549.6 194.9,549.7 195.4,549.9 195.9,549.7 196.4,549.4 196.9,549.3 197.4,549.5 197.9,549.4 198.4,549.3 198.9,549.3 199.4,549.4 199.9,549.7 200.4,549.8 200.9,549.8 201.4,549.9 201.9,550.0 202.4,550.2 202.9,550.1 203.4,549.6 203.9,549.2 204.4,548.9 204.9,549.2 205.4,549.7 205.9,549.7 206.4,549.6 206.9,549.7 207.4,549.7 207.9,549.3 208.4,549.0 208.9,549.2 209.4,549.4 209.9,549.5 210.4,549.3 210.9,549.2 211.4,549.4 211.9,549.6 212.4,549.5 212.9,549.6 213.4,549.5 213.9,549.1 214.4,548.6 214.9,548.6 215.4,549.0 215.9,548.9 216.4,548.5 216.9,548.0 217.4,547.7 217.9,547.0 218.4,545.8 218.9,543.7 219.4,538.9 219.9,528.5 220.4,513.4 220.9,504.5 221.4,513.5 221.9,528.4 222.4,538.7 222.9,543.7 223.4,545.9 223.9,546.9 224.4,547.6 224.9,548.3 225.4,548.9 225.9,549.1 226.4,548.9 226.9,548.9 227.4,549.1 227.9,549.0 228.4,548.8 228.9,548.9 229.4,549.2 229.9,549.3 230.4,549.4 230.9,549.6 231.4,549.7 231.9,549.5 232.4,549.4 232.9,549.4 233.4,549.6 233.9,549.7 234.4,549.6 234.9,549.5 235.4,549.3 235.9,549.1 236.4,549.2 236.9,549.6 237.4,549.8 237.9,549.8 238.4,549.7 238.9,549.8 239.4,549.9 239.9,549.8 240.4,549.5 240.9,549.4 241.4,549.4 241.9,549.4 242.4,549.6 242.9,549.7 243.4,549.7 243.9,549.8 244.4,549.6 244.9,549.4 245.4,549.4 245.9,549.4 246.4,549.5 246.9,549.7 247.4,549.9 247.9,549.9 248.4,549.7 248.9,549.4 249.4,549.2 249.9,549.3 250.4,549.5 250.9,549.6 251.4,549.8 251.9,549.9 252.4,549.9 252.9,549.8 253.4,549.7 253.9,549.7 254.4,549.8 254.9,549.7 255.4,549.5 255.9,549.8 256.4,550.1 256.9,549.8 257.4,549.4 257.9,549.2 258.4,549.3 258.9,549.6 259.4,549.7 259.9,549.8 260.4,550.2 260.9,550.1 261.4,549.7 261.9,549.7 262.4,549.8 262.9,549.7 263.4,549.7 263.9,549.7 264.4,549.9 264.9,549.8 265.4,549.8 265.9,549.9 266.4,549.9 266.9,549.7 267.4,549.8 267.9,550.0 268.4,549.8 268.9,549.5 269.4,549.3 269.9,549.3 270.4,549.3 270.9,549.5 271.4,549.4 271.9,549.2 272.4,549.4 272.9,549.7 273.4,549.5 273.9,549.5 274.4,549.6 274.9,549.4 275.4,549.1 275.9,549.2 276.4,549.5 276.9,549.8 277.4,549.8 277.9,549.5 278.4,549.2 278.9,549.2 279.4,549.2 279.9,549.2 280.4,549.1 280.9,549.4 281.4,549.6 281.9,549.6 282.4,549.5 282.9,549.2 283.4,549.0 283.9,549.3 284.4,549.7 284.9,549.7 285.4,549.6 285.9,549.6 286.4,549.6 286.9,549.7 287.4,549.6 287.9,549.5 288.4,549.4 288.9,549.2 289.4,549.0 289.9,549.0 290.4,549.3 290.9,549.4 291.4,549.3 291.9,549.4 292.4,549.5 292.9,549.3 293.4,549.2 293.9,549.6 294.4,549.7 294.9,549.3 295.4,548.8 295.9,548.9 296.4,549.2 296.9,549.3 297.4,549.2 297.9,548.9 298.4,548.9 298.9,548.9 299.4,549.0 299.9,548.9 300.4,548.7 300.9,548.2 301.4,547.8 301.9,547.6 302.4,547.4 302.9,547.2 303.4,547.1 303.9,546.5 304.4,545.1 304.9,542.8 305.4,539.4 305.9,534.0 306.4,526.1 306.9,515.9 307.4,506.6 307.9,503.5 308.4,509.2 308.9,519.4 309.4,529.1 309.9,536.5 310.4,541.1 310.9,543.7 311.4,545.5 311.9,546.6 312.4,546.9 312.9,547.2 313.4,547.6 313.9,547.9 314.4,548.2 314.9,548.7 315.4,548.8 315.9,548.5 316.4,548.6 316.9,548.9 317.4,548.9 317.9,548.9 318.4,549.0 318.9,549.2 319.4,549.1 319.9,549.1 320.4,549.2 320.9,549.2 321.4,549.3 321.9,549.4 322.4,549.4 322.9,549.3 323.4,549.2 323.9,549.0 324.4,548.9 324.9,549.1 325.4,549.2 325.9,549.1 326.4,549.1 326.9,549.3 327.4,549.3 327.9,549.2 328.4,549.5 328.9,549.5 329.4,549.5 329.9,549.6 330.4,549.4 330.9,549.5 331.4,549.7 331.9,549.4 332.4,549.3 332.9,549.4 333.4,549.3 333.9,549.3 334.4,549.7 334.9,549.8 335.4,549.4 335.9,549.4 336.4,549.5 336.9,549.3 337.4,549.2 337.9,549.4 338.4,549.5 338.9,549.6 339.4,549.7 339.9,549.7 340.4,549.6 340.9,549.3 341.4,549.1 341.9,549.2 342.4,549.3 342.9,549.3 343.4,549.2 343.9,549.3 344.4,549.7 344.9,549.8 345.4,549.4 345.9,549.3 346.4,549.3 346.9,549.5 347.4,549.4 347.9,549.2 348.4,549.1 348.9,549.0 349.4,548.9 349.9,549.0 350.4,548.9 350.9,548.9 351.4,549.0 351.9,549.0 352.4,548.8 352.9,548.6 353.4,548.3 353.9,548.1 354.4,547.8 354.9,547.4 355.4,546.9 355.9,545.9 356.4,544.1 356.9,540.8 357.4,533.7 357.9,519.4 358.4,498.6 358.9,486.1 359.4,498.7 359.9,519.5 360.4,533.7 360.9,540.9 361.4,544.0 361.9,545.4 362.4,546.5 362.9,547.3 363.4,547.8 363.9,548.1 364.4,548.2 364.9,548.3 365.4,548.4 365.9,548.8 366.4,549.1 366.9,549.0 367.4,548.7 367.9,548.6 368.4,548.7 368.9,548.9 369.4,548.6 369.9,548.5 370.4,548.7 370.9,548.9 371.4,548.9 371.9,548.5 372.4,548.7 372.9,548.8 373.4,548.5 373.9,548.5 374.4,548.8 374.9,548.9 375.4,548.4 375.9,548.2 376.4,548.6 376.9,548.7 377.4,548.1 377.9,547.8 378.4,548.1 378.9,548.1 379.4,547.9 379.9,547.6 380.4,547.2 380.9,547.1 381.4,547.2 381.9,546.6 382.4,545.6 382.9,545.2 383.4,545.0 383.9,543.9 384.4,542.5 384.9,541.1 385.4,538.9 385.9,535.1 386.4,528.7 386.9,517.7 387.4,500.2 387.9,475.3 388.4,445.6 388.9,421.5 389.4,419.0 389.9,440.1 390.4,469.6 390.9,495.6 391.4,514.6 391.9,526.6 392.4,533.6 392.9,537.5 393.4,539.8 393.9,540.7 394.4,540.4 394.9,538.9 395.4,535.2 395.9,528.4 396.4,519.6 396.9,514.9 397.4,519.9 397.9,529.6 398.4,537.5 398.9,542.0 399.4,544.3 399.9,545.7 400.4,546.5 400.9,547.0 401.4,547.3 401.9,547.4 402.4,547.4 402.9,547.4 403.4,547.6 403.9,547.9 404.4,548.3 404.9,548.6 405.4,548.7 405.9,548.7 406.4,548.6 406.9,548.6 407.4,548.7 407.9,548.8 408.4,548.7 408.9,548.5 409.4,548.6 409.9,548.6 410.4,548.6 410.9,548.7 411.4,548.5 411.9,547.6 412.4,546.3 412.9,544.8 413.4,543.4 413.9,542.2 414.4,542.2 414.9,543.9 415.4,545.7 415.9,546.8 416.4,547.6 416.9,548.2 417.4,548.5 417.9,548.5 418.4,548.9 418.9,549.3 419.4,549.3 419.9,549.2 420.4,549.0 420.9,548.9 421.4,549.1 421.9,549.1 422.4,549.0 422.9,549.2 423.4,549.4 423.9,549.0 424.4,548.3 424.9,547.6 425.4,547.2 425.9,547.3 426.4,547.6 426.9,548.0 427.4,548.2 427.9,548.5 428.4,549.0 428.9,549.1 429.4,549.1 429.9,549.3 430.4,549.5 430.9,549.3 431.4,549.0 431.9,548.8 432.4,549.1 432.9,549.4 433.4,549.3 433.9,549.2 434.4,549.3 434.9,549.5 435.4,549.5 435.9,549.3 436.4,549.2 436.9,549.2 437.4,549.3 437.9,549.1 438.4,549.0 438.9,549.4 439.4,549.6 439.9,549.7 440.4,549.7 440.9,549.5 441.4,549.2 441.9,549.1 442.4,549.3 442.9,549.7 443.4,549.7 443.9,549.7 444.4,549.6 444.9,549.5 445.4,549.4 445.9,549.5 446.4,549.6 446.9,549.6 447.4,549.6 447.9,549.4 448.4,549.3 448.9,549.2 449.4,549.3 449.9,549.3 450.4,549.1 450.9,549.4 451.4,549.8 451.9,549.5 452.4,549.2 452.9,549.4 453.4,549.6 453.9,549.6 454.4,549.5 454.9,549.4 455.4,549.6 455.9,550.0 456.4,549.6 456.9,549.2 457.4,549.3 457.9,549.4 458.4,549.5 458.9,549.5 459.4,549.3 459.9,549.1 460.4,549.2 460.9,549.3 461.4,549.1 461.9,548.9 462.4,548.9 462.9,549.0 463.4,549.0 463.9,548.9 464.4,549.1 464.9,549.1 465.4,548.9 465.9,548.8 466.4,548.9 466.9,548.9 467.4,548.5 467.9,548.4 468.4,548.5 468.9,548.6 469.4,548.8 469.9,548.6 470.4,548.3 470.9,548.3 471.4,548.5 471.9,548.3 472.4,547.7 472.9,546.8 473.4,546.2 473.9,545.7 474.4,544.2 474.9,541.4 475.4,535.3 475.9,522.5 476.4,501.5 476.9,480.5 477.4,482.6 477.9,502.9 478.4,518.3 478.9,522.6 479.4,521.1 479.9,524.5 480.4,532.8 480.9,539.7 481.4,543.4 481.9,545.0 482.4,546.3 482.9,547.0 483.4,547.3 483.9,547.4 484.4,547.4 484.9,547.7 485.4,548.1 485.9,548.1 486.4,547.5 486.9,547.1 487.4,546.7 487.9,545.7 488.4,544.6 488.9,543.1 489.4,542.0 489.9,542.5 490.4,543.5 490.9,544.6 491.4,546.0 491.9,547.0 492.4,547.6 492.9,547.7 493.4,547.7 493.9,548.1 494.4,548.6 494.9,548.8 495.4,548.7 495.9,548.3 496.4,547.9 496.9,547.6 497.4,547.4 497.9,547.2 498.4,546.8 498.9,546.3 499.4,546.2 499.9,546.0 500.4,545.5 500.9,544.0 501.4,541.7 501.9,538.2 502.4,532.7 502.9,524.4 503.4,513.8 503.9,501.8 504.4,491.3 504.9,488.0 505.4,494.8 505.9,506.9 506.4,519.0 506.9,528.5 507.4,535.2 507.9,539.7 508.4,542.7 508.9,544.5 509.4,545.3 509.9,546.0 510.4,546.7 510.9,547.2 511.4,547.6 511.9,548.0 512.4,548.3 512.9,548.6 513.4,548.7 513.9,548.5 514.4,548.4 514.9,548.5 515.4,548.9 515.9,549.3 516.4,549.5 516.9,549.5 517.4,549.3 517.9,549.2 518.4,549.2 518.9,549.2 519.4,549.0 519.9,549.0 520.4,549.1 520.9,549.1 521.4,549.1 521.9,549.1 522.4,549.2 522.9,549.2 523.4,549.2 523.9,549.0 524.4,549.2 524.9,549.4 525.4,549.3 525.9,549.2 526.4,549.0 526.9,548.9 527.4,549.2 527.9,549.4 528.4,549.3 528.9,549.3 529.4,549.2 529.9,549.1 530.4,549.2 530.9,549.5 531.4,549.6 531.9,549.4 532.4,549.5 532.9,549.5 533.4,549.0 533.9,549.0 534.4,549.3 534.9,549.5 535.4,549.6 535.9,549.7 536.4,549.4 536.9,549.0 537.4,548.9 537.9,549.2 538.4,549.3 538.9,549.5 539.4,549.4 539.9,549.4 540.4,549.8 540.9,550.0 541.4,549.6 541.9,549.3 542.4,549.2 542.9,549.3 543.4,549.3 543.9,549.3 544.4,549.5 544.9,549.6 545.4,549.5 545.9,549.6 546.4,549.7 546.9,549.4 547.4,548.9 547.9,549.1 548.4,549.5 548.9,549.7 549.4,549.5 549.9,549.4 550.4,549.4 550.9,549.5 551.4,549.4 551.9,549.3 552.4,549.4 552.9,549.5 553.4,549.3 553.9,549.2 554.4,549.4 554.9,549.5 555.4,549.6 555.9,549.8 556.4,549.9 556.9,549.8 557.4,549.5 557.9,549.3 558.4,549.4 558.9,549.8 559.4,549.9 559.9,549.8 560.4,549.4 560.9,549.3 561.4,549.6 561.9,549.7 562.4,549.6 562.9,549.6 563.4,549.7 563.9,549.5 564.4,549.4 564.9,549.5 565.4,549.5 565.9,549.6 566.4,549.9 566.9,549.9 567.4,549.4 567.9,549.2 568.4,549.4 568.9,549.7 569.4,549.5 569.9,549.2 570.4,549.1 570.9,549.2 571.4,549.5 571.9,549.8 572.4,549.7 572.9,549.5 573.4,549.6 573.9,549.6 574.4,549.5 574.9,549.7 575.4,550.0 575.9,549.9 576.4,549.7 576.9,549.5 577.4,549.3 577.9,549.2 578.4,549.5 578.9,550.0 579.4,550.2 579.9,550.0 580.4,549.8 580.9,549.6 581.4,549.4 581.9,549.5 582.4,549.6 582.9,549.5 583.4,549.5 583.9,549.3 584.4,549.0 584.9,549.0 585.4,549.0 585.9,549.2 586.4,549.6 586.9,549.6 587.4,549.7 587.9,549.9 588.4,549.8 588.9,549.7 589.4,549.8 589.9,549.7 590.4,549.6 590.9,549.5 591.4,549.2 591.9,549.2 592.4,549.5 592.9,549.6 593.4,549.5 593.9,549.5 594.4,549.8 594.9,549.9 595.4,549.9 595.9,549.7 596.4,549.5 596.9,549.4 597.4,549.4 597.9,549.3 598.4,549.4 598.9,549.7 599.4,549.4 599.9,549.2 600.4,549.5 600.9,549.7 601.4,549.6 601.9,549.5 602.4,549.2 602.9,549.0 603.4,548.9 603.9,549.1 604.4,549.2 604.9,548.9 605.4,548.8 605.9,548.3 606.4,548.0 606.9,547.7 607.4,546.6 607.9,543.7 608.4,537.7 608.9,528.6 609.4,522.6 609.9,527.4 610.4,533.6 610.9,534.5 611.4,532.6 611.9,534.2 612.4,539.4 612.9,544.0 613.4,546.5 613.9,547.6 614.4,548.0 614.9,548.4 615.4,548.8 615.9,548.6 616.4,548.6 616.9,548.9 617.4,548.9 617.9,549.1 618.4,549.3 618.9,549.3 619.4,549.3 619.9,549.4 620.4,549.7 620.9,549.7 621.4,549.4 621.9,549.2 622.4,549.2 622.9,549.5 623.4,549.5 623.9,549.3 624.4,549.3 624.9,549.2 625.4,549.0 625.9,549.2 626.4,549.7 626.9,549.7 627.4,549.5 627.9,549.5 628.4,549.4 628.9,549.2 629.4,549.5 629.9,549.9 630.4,549.6 630.9,549.5 631.4,549.5 631.9,549.4 632.4,549.5 632.9,549.7 633.4,549.6 633.9,549.5 634.4,549.5 634.9,549.5 635.4,549.7 635.9,549.8 636.4,549.7 636.9,549.3 637.4,549.0 637.9,549.4 638.4,549.6 638.9,549.2 639.4,548.9 639.9,549.1 640.4,549.4 640.9,549.3 641.4,549.3 641.9,549.6 642.4,549.7 642.9,549.5 643.4,549.4 643.9,549.5 644.4,549.8 644.9,549.8 645.4,549.4 645.9,549.0 646.4,549.2 646.9,549.3 647.4,549.4 647.9,549.5 648.4,549.5 648.9,549.5 649.4,549.5 649.9,549.4 650.4,549.1 650.9,549.3 651.4,549.6 651.9,549.2 652.4,549.1 652.9,549.3 653.4,549.1 653.9,548.8 654.4,548.8 654.9,549.1 655.4,549.3 655.9,549.2 656.4,549.0 656.9,548.7 657.4,548.4 657.9,548.1 658.4,547.8 658.9,547.5 659.4,547.1 659.9,546.2 660.4,545.0 660.9,543.8 661.4,542.2 661.9,540.4 662.4,539.0 662.9,537.9 663.4,537.8 663.9,538.6 664.4,539.8 664.9,541.3 665.4,542.8 665.9,544.0 666.4,545.1 666.9,546.1 667.4,546.8 667.9,547.3 668.4,547.8 668.9,548.0 669.4,547.8 669.9,547.9 670.4,548.3 670.9,548.6 671.4,548.8 671.9,548.9 672.4,549.0 672.9,548.8 673.4,548.5 673.9,548.2 674.4,548.0 674.9,548.1 675.4,548.1 675.9,547.9 676.4,547.5 676.9,547.1 677.4,546.5 677.9,545.4 678.4,543.1 678.9,537.7 679.4,525.9 679.9,507.4 680.4,495.1 680.9,505.4 681.4,519.7 681.9,524.5 682.4,521.2 682.9,519.7 683.4,527.3 683.9,536.3 684.4,542.0 684.9,545.2 685.4,547.0 685.9,547.7 686.4,548.0 686.9,548.2 687.4,548.5 687.9,548.7 688.4,548.6 688.9,548.6 689.4,548.9 689.9,549.1 690.4,549.2 690.9,549.0 691.4,548.8 691.9,549.3 692.4,549.8 692.9,549.6 693.4,549.1 693.9,549.0 694.4,549.1 694.9,549.1 695.4,549.2 695.9,549.3 696.4,549.5 696.9,549.4 697.4,549.0 697.9,549.0 698.4,549.0 698.9,548.8 699.4,548.9 699.9,549.2 700.4,549.2 700.9,549.1 701.4,549.4 701.9,549.7 702.4,549.5 702.9,549.3 703.4,549.0 703.9,548.9 704.4,549.1 704.9,549.2 705.4,549.4 705.9,549.6 706.4,549.3 706.9,549.1 707.4,549.0 707.9,548.5 708.4,548.2 708.9,548.3 709.4,548.3 709.9,548.3 710.4,548.2 710.9,548.3 711.4,548.0 711.9,547.4 712.4,546.6 712.9,546.0 713.4,544.6 713.9,542.4 714.4,539.2 714.9,534.3 715.4,527.7 715.9,520.2 716.4,513.8 716.9,511.3 717.4,512.8 717.9,515.3 718.4,517.6 718.9,520.9 719.4,526.0 719.9,531.8 720.4,536.8 720.9,540.3 721.4,543.0 721.9,545.1 722.4,546.3 722.9,547.1 723.4,547.6 723.9,548.0 724.4,548.4 724.9,548.5 725.4,548.4 725.9,548.3 726.4,548.5 726.9,548.6 727.4,548.6 727.9,548.8 728.4,549.0 728.9,549.0 729.4,548.7 729.9,548.6 730.4,548.8 730.9,549.0 731.4,548.9 731.9,548.7 732.4,548.5 732.9,548.3 733.4,547.8 733.9,546.8 734.4,545.8 734.9,545.0 735.4,545.1 735.9,545.7 736.4,546.5 736.9,547.2 737.4,547.4 737.9,547.7 738.4,548.2 738.9,548.7 739.4,549.0 739.9,549.1 740.4,549.3 740.9,549.3 741.4,549.1 741.9,548.9 742.4,549.2 742.9,549.4 743.4,549.1 743.9,549.3 744.4,549.7 744.9,549.6 745.4,549.3 745.9,549.4 746.4,549.7 746.9,549.7 747.4,549.5 747.9,549.5 748.4,549.7 748.9,549.8 749.4,549.8 749.9,549.4 750.4,549.2 750.9,549.6 751.4,549.9 751.9,549.8 752.4,549.8 752.9,549.9 753.4,549.6 753.9,549.5 754.4,549.5 754.9,549.5 755.4,549.7 755.9,549.7 756.4,549.4 756.9,549.2 757.4,549.2 757.9,549.4 758.4,549.5 758.9,549.5 759.4,549.3 759.9,549.5 760.4,549.7 760.9,549.7 761.4,549.7 761.9,549.7 762.4,549.4 762.9,549.3 763.4,549.6 763.9,549.8 764.4,549.6 764.9,549.1 765.4,548.8 765.9,548.9 766.4,549.3 766.9,549.7 767.4,549.8 767.9,549.6 768.4,549.6 768.9,549.7 769.4,549.6 769.9,549.6 770.4,549.4 770.9,549.1 771.4,549.4 771.9,549.7 772.4,549.6 772.9,549.4 773.4,549.4 773.9,549.4"/>
<rect x="68.9" y="26.4" width="705.5" height="536.6" fill="none" stroke="#000" stroke-width="2.65"/>
<line x1="140.9" y1="563.0" x2="140.9" y2="551.7" stroke="#000" stroke-width="2.8"/>
<line x1="284.9" y1="563.0" x2="284.9" y2="551.7" stroke="#000" stroke-width="2.8"/>
<line x1="428.8" y1="563.0" x2="428.8" y2="551.7" stroke="#000" stroke-width="2.8"/>
<line x1="572.8" y1="563.0" x2="572.8" y2="551.7" stroke="#000" stroke-width="2.8"/>
<line x1="716.7" y1="563.0" x2="716.7" y2="551.7" stroke="#000" stroke-width="2.8"/>
<line x1="212.9" y1="563.0" x2="212.9" y2="557.0" stroke="#000" stroke-width="2.8"/>
<line x1="356.8" y1="563.0" x2="356.8" y2="557.0" stroke="#000" stroke-width="2.8"/>
<line x1="500.8" y1="563.0" x2="500.8" y2="557.0" stroke="#000" stroke-width="2.8"/>
<line x1="644.7" y1="563.0" x2="644.7" y2="557.0" stroke="#000" stroke-width="2.8"/>
<text transform="translate(140.4,605.0) scale(1,1.035)" font-size="35.6" letter-spacing="-0.6" font-weight="bold" text-anchor="middle">20</text>
<text transform="translate(285.2,605.0) scale(1,1.035)" font-size="35.6" letter-spacing="-0.6" font-weight="bold" text-anchor="middle">30</text>
<text transform="translate(430.1,605.0) scale(1,1.035)" font-size="35.6" letter-spacing="-0.6" font-weight="bold" text-anchor="middle">40</text>
<text transform="translate(574.9,605.0) scale(1,1.035)" font-size="35.6" letter-spacing="-0.6" font-weight="bold" text-anchor="middle">50</text>
<text transform="translate(719.7,605.0) scale(1,1.035)" font-size="35.6" letter-spacing="-0.6" font-weight="bold" text-anchor="middle">60</text>
<text x="385.9" y="659.2" font-size="34.3" font-weight="bold">2</text>
<text transform="translate(403.5,659.2) scale(1.12,1)" font-size="32.6" stroke="#000" stroke-width="0.4">θ</text>
<text transform="translate(420.8,659.2) scale(1.08,1)" font-size="31">(°)</text>
<text transform="translate(28.8,290) rotate(-90) scale(1,1.065)" font-size="33.6" font-weight="bold" letter-spacing="0.15" text-anchor="middle">Intensity <tspan font-size="30" dy="-1.3">(</tspan><tspan dy="1.3">a.u.</tspan><tspan font-size="30" dy="-1.3">)</tspan></text>
<text y="27.3" font-weight="bold"><tspan x="-0.1" font-size="31.5">(</tspan><tspan x="11.2" y="28.4" font-size="34.4">a</tspan><tspan x="27.95" y="27.3" font-size="31.5">)</tspan></text>
<circle cx="97.8" cy="55.3" r="7"/>
<text transform="translate(121.0,62.9) scale(0.87,1)" font-size="27.2">Al</text>
<text transform="translate(143.8,70.9) scale(1.1,1)" font-size="23.2">2</text>
<text transform="translate(155.3,62.9) scale(0.985,1)" font-size="26.3">O</text>
<text transform="translate(173.8,71.0) scale(0.9,1)" font-size="23.5">3</text>
<text transform="translate(75.6,250.4) scale(0.905,1)" font-size="28.8" font-weight="bold">S2</text>
<text transform="translate(74.6,369.9) scale(0.905,1)" font-size="28.8" font-weight="bold">S1</text>
<text transform="translate(73.8,534.6) scale(0.905,1)" font-size="28.8" font-weight="bold">S0</text>
<circle cx="220.9" cy="248.1" r="6.95"/>
<circle cx="359" cy="246.6" r="6.95"/>
<circle cx="397.5" cy="248.1" r="6.95"/>
<circle cx="477.1" cy="245.2" r="6.95"/>
<circle cx="610" cy="248.7" r="6.95"/>
<circle cx="681.9" cy="248.7" r="6.95"/>
<text transform="translate(133.9,231.9) rotate(-90)" font-size="21.9">(111)</text>
<text transform="translate(312.9,203.0) rotate(-90)" font-size="21.9">(220)</text>
<text transform="translate(393.6,79.5) rotate(-90)" font-size="21.9">(311)</text>
<text transform="translate(419.8,253.7) rotate(-90)" font-size="21.9">(222)</text>
<text transform="translate(509.2,157.2) rotate(-90)" font-size="21.9">(400)</text>
<text transform="translate(667.6,242.5) rotate(-90)" font-size="21.9">(422)</text>
<text transform="translate(720.7,195.3) rotate(-90)" font-size="21.9">(511)</text>
<line x1="1144.7" y1="28.9" x2="1144.7" y2="563.9" stroke="#000" stroke-width="1.7" stroke-dasharray="7.7 5.72"/>
<polyline fill="none" stroke="#000" stroke-width="2.25" stroke-linejoin="round" points="908.1,260.1 917.9,258.7 928.7,257.9 938.6,257.0 949.3,257.0 959.2,255.6 972.6,252.2 982.9,251.8 994.2,242.5 1004.9,236.2 1015.7,229.1 1027.4,215.6 1038.1,199.5 1048.8,176.5 1059.6,148.9 1070.4,122.9 1082,104.1 1092.2,85.2 1114.3,96 1125.4,108.6 1135.8,127.4 1145.7,148.9 1157.4,167.8 1168.8,181.8 1179.6,201.6 1190.4,221.9 1201.5,236.8 1211.9,242.9 1223.5,249.7 1234.3,254.7 1246,254.7 1255.8,256.9 1266.6,258.8 1277.7,256.9 1289,259.6 1299.8,260.1 1310.5,259.2 1321.3,259.2 1332.1,262.1 1343.2,260.3 1353.6,261.8 1364.9,261.5 1376.2,260.3 1386.8,261.5 1398.1,261.8 1408.6,260 1420,260 1430.5,258.8 1441.8,258.1 1452.4,259.3 1463,260.2 1474.3,260.8 1484.8,260.6 1495.4,262.2 1505.9,261.8 1515.7,261.1 1527,261.4 1539.1,262.3 1551.2,261.8 1561,262.2"/>
<polyline fill="none" stroke="#000" stroke-width="2.25" stroke-linejoin="round" points="908.2,381.9 917.5,382.3 928.2,380.1 939.4,382.3 950.5,380.1 961.2,380.3 971.9,379.6 982.6,378 993.8,376.3 1004.9,376.8 1015.6,374.1 1026.3,370.4 1036.9,365.2 1048.6,357.4 1059.3,350.6 1070.6,337 1081.6,327.7 1092.3,307.9 1103,293.7 1114.2,288 1125,288.1 1135.9,289.4 1147.2,296.8 1158.3,307.9 1169,316.2 1179.6,323.8 1190.7,331.6 1201.4,347.1 1212.3,354.5 1223.2,364.8 1234,368.7 1245.1,374.5 1256,373.7 1267.1,376.4 1277.7,377.6 1288.8,377.4 1300.1,379.6 1310.8,379.4 1321.4,380.5 1334.7,380.3 1348.6,379.5 1362.5,379.5 1376.4,381.5 1387,379.5 1397.6,378.2 1409.1,376.1 1419.7,375.8 1431.1,370.9 1441.8,373.3 1452.4,373 1463.8,370.4 1474.4,372.2 1485.6,375.8 1495.7,374.6 1507.1,375.4 1517.7,376.2 1529.2,378.2 1539.8,379.8 1550.4,380.7 1561.1,382.3"/>
<polyline fill="none" stroke="#000" stroke-width="2.25" stroke-linejoin="round" points="908.4,546.9 920.3,545.6 938.1,545.1 961,541.8 982.6,539.8 994,535.5 1005,533.4 1016.1,528.8 1027.1,526.3 1048.7,516.1 1070.3,494 1080.9,480.8 1091.9,469.9 1103.3,457.2 1114.2,445.7 1124.9,430.5 1136.1,427.4 1147,418.3 1157.9,420.3 1168.6,439.4 1179.5,450.8 1190.7,454.6 1201.7,475.5 1212.6,488.9 1223.5,500.4 1234.7,510.5 1245.6,521.2 1256.3,527.1 1267.2,532.7 1277.9,536.5 1288.8,539.5 1300,539.5 1310.9,541 1321.9,540.7 1331.4,541.3 1342.9,541.8 1354.3,543.1 1364.9,542.3 1376.4,541 1387.3,537.2 1397.6,536.7 1408.7,532.3 1420,524.1 1431.1,518.9 1441.8,517.6 1453.2,518.9 1463.8,522.2 1474.4,527.1 1485.1,528.5 1496.2,529.8 1507.1,534.4 1518.2,536.1 1529.2,539.7 1539.8,542.6 1550.4,543.7 1561.1,544.2"/>
<rect x="906.8" y="27.2" width="655.0" height="536.7" fill="none" stroke="#000" stroke-width="2.65"/>
<line x1="1125.0" y1="563.9" x2="1125.0" y2="552.1" stroke="#000" stroke-width="2.8"/>
<line x1="1343.5" y1="563.9" x2="1343.5" y2="552.1" stroke="#000" stroke-width="2.8"/>
<line x1="1015.8" y1="563.9" x2="1015.8" y2="557.6" stroke="#000" stroke-width="2.8"/>
<line x1="1234.3" y1="563.9" x2="1234.3" y2="557.6" stroke="#000" stroke-width="2.8"/>
<line x1="1452.7" y1="563.9" x2="1452.7" y2="557.6" stroke="#000" stroke-width="2.8"/>
<text transform="translate(906.1,604.9) scale(1,1.035)" font-size="35.6" letter-spacing="-0.95" font-weight="bold" text-anchor="middle">36.8</text>
<text transform="translate(1124.6,604.9) scale(1,1.035)" font-size="35.6" letter-spacing="-0.95" font-weight="bold" text-anchor="middle">37.2</text>
<text transform="translate(1343.0,604.9) scale(1,1.035)" font-size="35.6" letter-spacing="-0.95" font-weight="bold" text-anchor="middle">37.6</text>
<text transform="translate(1561.5,604.9) scale(1,1.035)" font-size="35.6" letter-spacing="-0.95" font-weight="bold" text-anchor="middle">38.0</text>
<text x="1198.9" y="659.0" font-size="34.3" font-weight="bold">2</text>
<text transform="translate(1216.5,659.0) scale(1.12,1)" font-size="32.6" stroke="#000" stroke-width="0.4">θ</text>
<text transform="translate(1233.8,659.0) scale(1.08,1)" font-size="31">(°)</text>
<text transform="translate(868.7,286.4) rotate(-90) scale(1,1.065)" font-size="33.6" font-weight="bold" letter-spacing="0.15" text-anchor="middle">Intensity <tspan font-size="30" dy="-1.3">(</tspan><tspan dy="1.3">a.u.</tspan><tspan font-size="30" dy="-1.3">)</tspan></text>
<text y="35.6" font-weight="bold"><tspan x="839.5" font-size="31.6">(</tspan><tspan x="850.5" y="37.6" font-size="32.9">b</tspan><tspan x="868.85" y="35.6" font-size="31.6">)</tspan></text>
<text transform="translate(921.5,243.8) scale(0.905,1)" font-size="28.8" font-weight="bold">S2</text>
<text transform="translate(920.2,366.9) scale(0.905,1)" font-size="28.8" font-weight="bold">S1</text>
<text transform="translate(919.6,531.2) scale(0.905,1)" font-size="28.8" font-weight="bold">S0</text>
</g></svg>
</body></html>
